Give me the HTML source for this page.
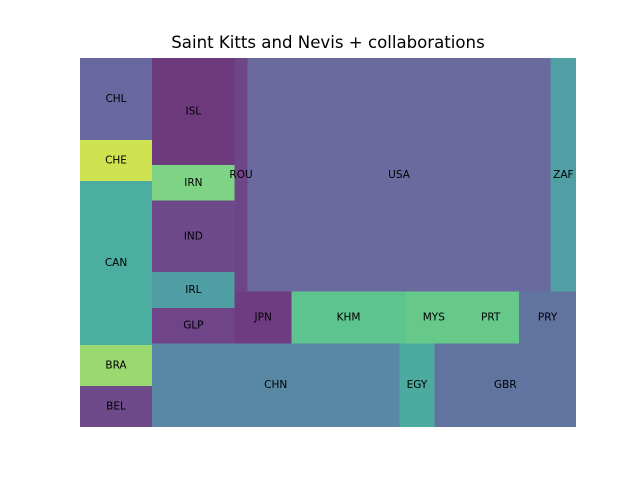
<!DOCTYPE html>
<html><head><meta charset="utf-8">
<style>
html,body{margin:0;padding:0;background:#fff;}
#wrap{position:relative;width:640px;height:480px;font-family:"DejaVu Sans","Liberation Sans",sans-serif;}
#title{position:absolute;left:0;width:656px;top:33px;text-align:center;font-size:16.6px;color:#000;}
</style></head><body>
<div id="wrap">
<div id="title">Saint Kitts and Nevis + collaborations</div>
<svg id="svg" width="640" height="480" style="position:absolute;left:0;top:0"><g id="rects" shape-rendering="crispEdges"></g><g id="texts"></g></svg>
</div>
<script>
const labels = ["CHL","CHE","CAN","BRA","BEL","ISL","IRN","IND","IRL","GLP","ROU","USA","ZAF","JPN","KHM","MYS","PRT","PRY","CHN","EGY","GBR"];
const values = [2,1,4,1,1,3,1,2,1,1,1,24,2,1,2,1,1,1,7,1,4];
const colors = ["#6867a0","#cfe24f","#4caea0","#9ad870","#6e4a8a","#6e3a7e","#7ed484","#6f4a8a","#4f9ea4","#704488","#6e4688","#6a6a9e","#4f9fa4","#6e3c80","#5ec48f","#66c98a","#66c98a","#6174a0","#5888a4","#4caaa0","#6174a0"];
const layout = {d:'h',c:[
  {d:'v',c:[0,1,2,3,4]},
  {d:'v',c:[
    {d:'h',c:[
      {d:'v',c:[5,6,7,8,9]},
      {d:'v',c:[
        {d:'h',c:[10,11,12]},
        {d:'h',c:[13,14,15,16,17]}
      ]}
    ]},
    {d:'h',c:[18,19,20]}
  ]}
]};
const NS='http://www.w3.org/2000/svg';
const gR=document.getElementById('rects'), gT=document.getElementById('texts');
function sum(n){return typeof n==='number'?values[n]:n.c.reduce((a,b)=>a+sum(b),0);}
function place(n,x,y,w,h){
  if(typeof n==='number'){
    const r=document.createElementNS(NS,'rect');
    r.setAttribute('x',x);r.setAttribute('y',y);r.setAttribute('width',w);r.setAttribute('height',h);
    r.setAttribute('fill',colors[n]);
    
    
    gR.appendChild(r);
    const t=document.createElementNS(NS,'text');
    t.setAttribute('x',x+w/2);t.setAttribute('y',y+h/2+3);
    t.setAttribute('text-anchor','middle');t.setAttribute('font-size','10.5');
    t.setAttribute('font-family','DejaVu Sans, Liberation Sans, sans-serif');
    t.textContent=labels[n];
    
    
    gT.appendChild(t);
    return;
  }
  const tot=sum(n);let off=0;
  n.c.forEach(ch=>{
    const f=sum(ch)/tot;
    if(n.d==='h'){place(ch,x+off*w,y,w*f,h);}else{place(ch,x,y+off*h,w,h*f);}
    off+=f;
  });
}
place(layout,80,58,496,369);
</script>
</body></html>
